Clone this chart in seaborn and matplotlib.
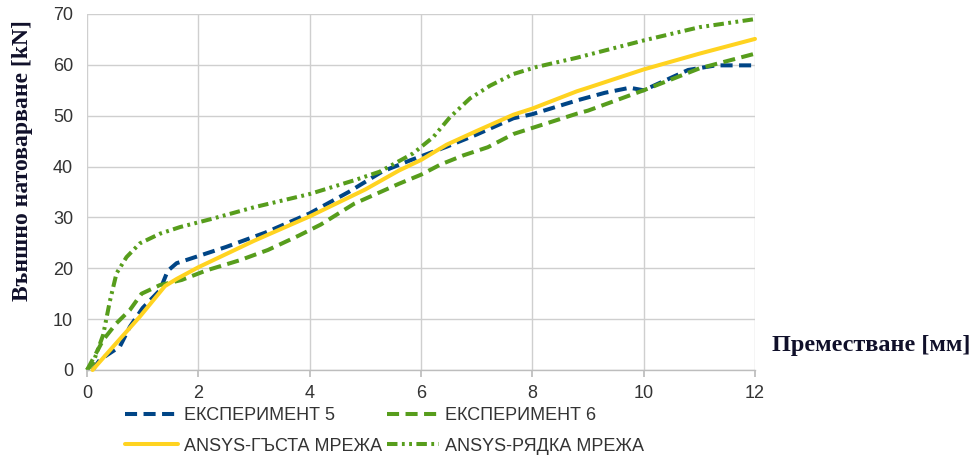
import matplotlib
matplotlib.use("Agg")
import matplotlib.pyplot as plt
import seaborn as sns
import pandas as pd
from matplotlib.lines import Line2D

# ---- data ----
exp5_x = [0.10, 0.23, 0.59, 0.77, 1.00, 1.31, 1.45, 1.61, 2.00, 2.50, 3.20, 4.00, 4.70, 5.30, 5.80, 6.46, 7.00, 7.66, 8.00, 8.80, 9.30, 9.75, 10.00, 10.40, 10.80, 11.30, 12.00]
exp5_y = [0.0, 2.0, 4.6, 8.5, 12.2, 15.7, 19.5, 21.0, 22.4, 24.2, 27.0, 30.8, 35.0, 39.0, 41.2, 43.9, 46.3, 49.5, 50.3, 53.0, 54.5, 55.5, 55.0, 57.0, 59.0, 59.9, 59.9]

exp6_x = [0.00, 0.05, 0.29, 0.53, 0.77, 0.98, 1.31, 1.70, 2.15, 2.75, 3.25, 3.80, 4.20, 4.80, 5.60, 6.00, 6.35, 6.76, 7.20, 7.66, 8.00, 8.80, 9.00, 10.00, 11.00, 12.00]
exp6_y = [0.0, 1.0, 5.9, 9.2, 11.8, 15.0, 16.7, 17.7, 19.6, 21.6, 23.6, 26.4, 28.6, 32.7, 36.6, 38.4, 40.4, 42.2, 43.8, 46.4, 47.6, 50.4, 51.0, 55.0, 59.3, 62.2]

fine_x = [0.10, 0.47, 0.95, 1.40, 1.61, 2.00, 3.00, 4.00, 5.00, 5.60, 6.00, 6.46, 7.00, 7.66, 8.00, 8.80, 9.00, 10.00, 11.00, 12.00]
fine_y = [0.0, 4.6, 10.5, 16.5, 17.9, 20.2, 25.4, 30.2, 35.5, 39.2, 41.3, 44.3, 47.0, 50.2, 51.4, 54.8, 55.5, 59.1, 62.2, 65.1]

coarse_x = [0.00, 0.11, 0.29, 0.41, 0.53, 0.71, 0.95, 1.31, 1.67, 2.27, 3.00, 4.00, 4.80, 5.26, 5.86, 6.22, 6.52, 6.88, 7.24, 7.66, 8.08, 8.80, 10.00, 11.00, 12.00]
coarse_y = [0.0, 1.4, 6.9, 13.5, 19.0, 22.2, 24.9, 26.8, 28.1, 29.8, 32.0, 34.6, 37.3, 39.0, 42.6, 45.8, 49.7, 53.4, 55.9, 58.2, 59.6, 61.4, 64.8, 67.4, 69.0]

series_names = ["ЕКСПЕРИМЕНТ 5", "ЕКСПЕРИМЕНТ 6", "ANSYS-ГЪСТА МРЕЖА", "ANSYS-РЯДКА МРЕЖА"]
x_label = "Преместване [мм]"
y_label = "Външно натоварване [kN]"
x_ticks = [0, 2, 4, 6, 8, 10, 12]
y_ticks = [0, 10, 20, 30, 40, 50, 60, 70]

frames = []
for name, xs, ys in zip(series_names, [exp5_x, exp6_x, fine_x, coarse_x], [exp5_y, exp6_y, fine_y, coarse_y]):
    frames.append(pd.DataFrame({"x": xs, "y": ys, "series": name}))
df = pd.concat(frames, ignore_index=True)

colors = {
    "ЕКСПЕРИМЕНТ 5": "#004586",
    "ЕКСПЕРИМЕНТ 6": "#579D1C",
    "ANSYS-ГЪСТА МРЕЖА": "#FFD320",
    "ANSYS-РЯДКА МРЕЖА": "#579D1C",
}
dashes = {
    "ЕКСПЕРИМЕНТ 5": (3.0, 1.6),
    "ЕКСПЕРИМЕНТ 6": (3.0, 1.6),
    "ANSYS-ГЪСТА МРЕЖА": "",
    "ANSYS-РЯДКА МРЕЖА": (2.6, 1.1, 0.7, 1.1, 0.7, 1.1),
}

sns.set_theme(style="white")
plt.rcParams["font.family"] = ["Liberation Sans", "DejaVu Sans"]

fig = plt.figure(figsize=(9.76, 4.62), dpi=100)
ax = fig.add_axes([87 / 976, 1 - 370 / 462, (755 - 87) / 976, (370 - 14) / 462])
ax.set_facecolor("white")

lw = 2.9
sns.lineplot(data=df, x="x", y="y", hue="series", style="series",
             hue_order=series_names, style_order=series_names,
             palette=colors, dashes=dashes, sort=False, estimator=None,
             linewidth=lw, ax=ax, legend=False)
for line in ax.get_lines():
    line.set_clip_on(False)
    line.set_solid_joinstyle("round")
    line.set_dash_joinstyle("round")
ax.get_lines()[2].set_zorder(3)

ax.set_xlim(0, 12)
ax.set_ylim(0, 70)
ax.set_xticks(x_ticks)
ax.set_yticks(y_ticks)
ax.grid(True, color="#cfcfcf", linewidth=1.0)
for s in ["top", "right", "left"]:
    ax.spines[s].set_visible(False)
ax.spines["bottom"].set_color("#bdbdbd")
ax.spines["bottom"].set_linewidth(1.0)
ax.tick_params(axis="x", length=5, color="#bdbdbd", labelsize=13, labelcolor="#333333", pad=6, direction="out", bottom=True)
ax.tick_params(axis="y", length=0, labelsize=13, labelcolor="#333333", pad=10)
ax.set_xlabel("")
ax.set_ylabel("")

fig.text(0.0235, 0.652, y_label, rotation=90, ha="center", va="center",
         fontsize=17, fontweight="bold", family=["Liberation Serif", "DejaVu Serif"], color="#10102a")
fig.text(772 / 976, 1 - 346 / 462, x_label, ha="left", va="center",
         fontsize=17.5, fontweight="bold", family=["Liberation Serif", "DejaVu Serif"], color="#10102a")

def make_handle(n):
    if dashes[n]:
        h = Line2D([], [], color=colors[n], linewidth=lw, linestyle="--")
        h.set_dashes(dashes[n])
    else:
        h = Line2D([], [], color=colors[n], linewidth=lw, linestyle="-")
    return h

# row-major order in the picture: matplotlib fills legend columns first
legend_order = [series_names[0], series_names[2], series_names[1], series_names[3]]
handles = [make_handle(n) for n in legend_order]
leg = fig.legend(handles, legend_order, ncol=2, loc="upper left",
                 bbox_to_anchor=(118 / 976, 1 - 400 / 462), frameon=False,
                 fontsize=13, handlelength=2.9, handletextpad=0.35,
                 columnspacing=0.25, labelspacing=0.75, borderaxespad=0)
for t in leg.get_texts():
    t.set_color("#333333")

fig.savefig("out.png", dpi=100, facecolor="white")
